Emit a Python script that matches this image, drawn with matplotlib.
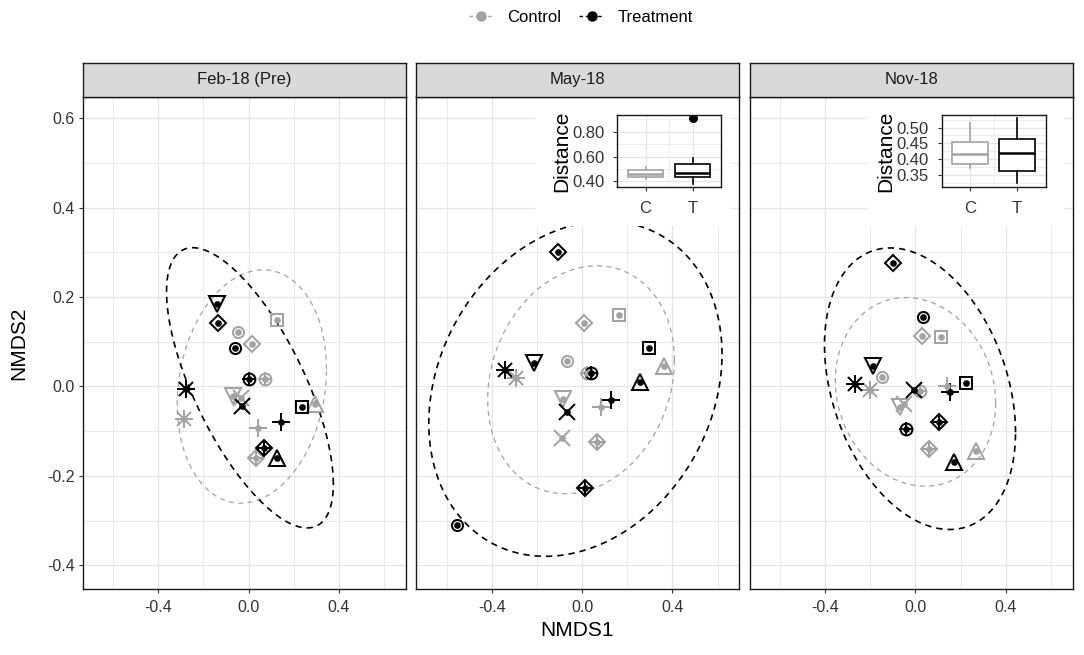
import numpy as np
import matplotlib
matplotlib.use("Agg")
import matplotlib.pyplot as plt
from matplotlib.lines import Line2D
from matplotlib.patches import Rectangle
from matplotlib.ticker import FixedLocator

plt.rcParams['font.family'] = ['Liberation Sans', 'DejaVu Sans']
plt.rcParams['axes.unicode_minus'] = False

# ---------------- data ----------------
panels = ["Feb-18 (Pre)", "May-18", "Nov-18"]
groups = ["Control", "Treatment"]
shapes = ["square", "circle", "tri_up", "plus", "cross", "diamond",
          "tri_down", "asterisk", "diamond_plus", "circle_plus"]

feb_control_x = [0.124, -0.046, 0.296, 0.043, -0.034, 0.013, -0.071, -0.288, 0.033, 0.071]
feb_control_y = [0.149, 0.121, -0.039, -0.092, -0.026, 0.095, -0.021, -0.072, -0.160, 0.017]
feb_treat_x = [0.235, -0.059, 0.124, 0.146, -0.027, -0.134, -0.140, -0.278, 0.067, 0.000]
feb_treat_y = [-0.045, 0.086, -0.159, -0.080, -0.043, 0.142, 0.185, -0.006, -0.138, 0.017]

may_control_x = [0.165, -0.068, 0.361, 0.085, -0.090, 0.009, -0.085, -0.292, 0.066, 0.021]
may_control_y = [0.160, 0.056, 0.045, -0.045, -0.115, 0.142, -0.028, 0.020, -0.125, 0.030]
may_treat_x = [0.296, -0.555, 0.255, 0.128, -0.068, -0.109, -0.212, -0.341, 0.014, 0.039]
may_treat_y = [0.086, -0.309, 0.011, -0.030, -0.058, 0.300, 0.052, 0.037, -0.227, 0.031]

nov_control_x = [0.115, -0.148, 0.269, 0.140, -0.050, 0.030, -0.067, -0.200, 0.059, 0.022]
nov_control_y = [0.110, 0.022, -0.145, 0.002, -0.040, 0.113, -0.045, -0.007, -0.140, -0.011]
nov_treat_x = [0.222, 0.032, 0.170, 0.152, -0.007, -0.099, -0.189, -0.270, 0.106, -0.044]
nov_treat_y = [0.008, 0.156, -0.170, -0.013, -0.007, 0.277, 0.046, 0.005, -0.080, -0.095]

# ellipse parameters per panel (centre, x half-extent, y half-extent, correlation)
ell_control_cx = [0.0145, -0.005, 0.000]
ell_control_cy = [0.000, 0.015, -0.012]
ell_control_rx = [0.331, 0.414, 0.355]
ell_control_ry = [0.261, 0.255, 0.211]
ell_control_rho = [0.15, 0.17, -0.12]
ell_treat_cx = [0.006, -0.030, 0.020]
ell_treat_cy = [-0.003, -0.005, -0.005]
ell_treat_rx = [0.370, 0.650, 0.423]
ell_treat_ry = [0.3135, 0.375, 0.315]
ell_treat_rho = [-0.686, 0.206, -0.31]

# inset boxplots (May-18, Nov-18): distance to centroid
box_labels = ["C", "T"]
box_c_whislo = [0.416, 0.371]
box_c_q1 = [0.435, 0.384]
box_c_med = [0.462, 0.416]
box_c_q3 = [0.495, 0.454]
box_c_whishi = [0.516, 0.516]
box_t_whislo = [0.381, 0.325]
box_t_q1 = [0.435, 0.362]
box_t_med = [0.467, 0.420]
box_t_q3 = [0.543, 0.464]
box_t_whishi = [0.589, 0.530]
box_t_fliers = [[0.908], []]
inset_yticks = [[0.40, 0.60, 0.80], [0.35, 0.40, 0.45, 0.50]]
inset_ylim = [(0.354, 0.935), (0.311, 0.540)]

# ---------------- style ----------------
BLACK = "#000000"
GREY = "#A3A3A3"
colors = {"Control": GREY, "Treatment": BLACK}
TXT = "#333333"
GRID = "#E6E6E6"

W, H = 1084, 655
fig = plt.figure(figsize=(W / 100, H / 100), dpi=100)

panel_lr = [(82.9, 405.7), (416.4, 739.4), (749.5, 1072.9)]
p_top, p_bot = 97.3, 588.5
strip_top = 62.5
XLIM = (-0.735, 0.697)
YLIM = (-0.452, 0.647)


def fx(px):
    return px / W


def fy(py):
    return 1 - py / H


def draw_point(ax, x, y, shape, color):
    kw = dict(color=color, mec=color, mfc="none", mew=1.45, ls="none", zorder=3)
    if shape == "square":
        ax.plot(x, y, marker="s", ms=9, **kw)
    elif shape == "circle":
        ax.plot(x, y, marker="o", ms=8, **kw)
    elif shape == "tri_up":
        ax.plot(x, y, marker="^", ms=12, **kw)
    elif shape == "tri_down":
        ax.plot(x, y, marker="v", ms=12, **kw)
    elif shape == "plus":
        ax.plot(x, y, marker="+", ms=13, **kw)
    elif shape == "cross":
        ax.plot(x, y, marker="x", ms=11, **kw)
    elif shape == "diamond":
        ax.plot(x, y, marker="D", ms=8.5, **kw)
    elif shape == "asterisk":
        ax.plot(x, y, marker="+", ms=13, **kw)
        ax.plot(x, y, marker="x", ms=10.5, **kw)
    elif shape == "diamond_plus":
        ax.plot(x, y, marker="D", ms=8.5, **kw)
        ax.plot(x, y, marker="+", ms=12, **kw)
    elif shape == "circle_plus":
        ax.plot(x, y, marker="o", ms=8.5, **kw)
        ax.plot(x, y, marker="+", ms=10.5, **kw)
    ax.plot(x, y, marker="o", ms=4.8, mfc=color, mec=color, mew=0, ls="none", zorder=4)


def draw_ellipse(ax, cx, cy, rx, ry, rho, color, lw, dash):
    t = np.linspace(0, 2 * np.pi, 361)
    xs = cx + rx * np.cos(t)
    ys = cy + rho * ry * np.cos(t) + ry * np.sqrt(1 - rho ** 2) * np.sin(t)
    ax.plot(xs, ys, color=color, lw=lw, ls=(0, dash), zorder=2.5)


data = [
    (feb_control_x, feb_control_y, feb_treat_x, feb_treat_y),
    (may_control_x, may_control_y, may_treat_x, may_treat_y),
    (nov_control_x, nov_control_y, nov_treat_x, nov_treat_y),
]

# inset geometry (pixels)
inset_bg = [None, (535.0, 731.0), (868.0, 1064.0)]
inset_box = [None, (617.3, 721.0), (941.5, 1045.5)]
ins_top, ins_bot, bg_bot = 115.0, 187.0, 226.0

axes = []
for i, name in enumerate(panels):
    l, r = panel_lr[i]
    ax = fig.add_axes([fx(l), fy(p_bot), (r - l) / W, (p_bot - p_top) / H])
    axes.append(ax)
    ax.set_xlim(*XLIM)
    ax.set_ylim(*YLIM)
    ax.xaxis.set_major_locator(FixedLocator([-0.4, 0.0, 0.4]))
    ax.xaxis.set_minor_locator(FixedLocator([-0.6, -0.2, 0.2, 0.6]))
    ax.yaxis.set_major_locator(FixedLocator([-0.4, -0.2, 0.0, 0.2, 0.4, 0.6]))
    ax.yaxis.set_minor_locator(FixedLocator([-0.3, -0.1, 0.1, 0.3, 0.5]))
    ax.grid(which="major", color=GRID, lw=0.9, zorder=0)
    ax.grid(which="minor", color=GRID, lw=0.6, zorder=0)
    ax.set_axisbelow(True)
    ax.set_xticklabels(["-0.4", "0.0", "0.4"])
    ax.tick_params(which="major", length=3, width=0.8, color=TXT, labelsize=11.5,
                   labelcolor=TXT, pad=3)
    ax.tick_params(axis="x", which="major", pad=5.5)
    ax.tick_params(which="minor", length=0)
    if i == 0:
        ax.set_yticklabels(["-0.4", "-0.2", "0.0", "0.2", "0.4", "0.6"])
    else:
        ax.tick_params(axis="y", which="major", length=0, labelleft=False)
    for s in ax.spines.values():
        s.set_color("#1A1A1A")
        s.set_linewidth(1.0)
        s.set_zorder(6)

    cx_, cy_, tx_, ty_ = data[i]
    for k, shp in enumerate(shapes):
        draw_point(ax, cx_[k], cy_[k], shp, GREY)
    for k, shp in enumerate(shapes):
        draw_point(ax, tx_[k], ty_[k], shp, BLACK)
    draw_ellipse(ax, ell_control_cx[i], ell_control_cy[i], ell_control_rx[i],
                 ell_control_ry[i], ell_control_rho[i], GREY, 0.9, (4, 3.5))
    draw_ellipse(ax, ell_treat_cx[i], ell_treat_cy[i], ell_treat_rx[i],
                 ell_treat_ry[i], ell_treat_rho[i], BLACK, 1.2, (3.8, 3))

    if inset_bg[i] is not None:
        bl, br = inset_bg[i]
        ax.add_patch(Rectangle((fx(bl), fy(bg_bot)), (br - bl) / W, (bg_bot - p_top) / H,
                               transform=fig.transFigure, facecolor="white",
                               edgecolor="none", zorder=5, clip_on=False))

    # strip
    sax = fig.add_axes([fx(l), fy(p_top), (r - l) / W, (p_top - strip_top) / H])
    sax.set_facecolor("#D9D9D9")
    sax.set_xticks([])
    sax.set_yticks([])
    for s in sax.spines.values():
        s.set_color("#1A1A1A")
        s.set_linewidth(1.0)
    sax.text(0.5, 0.5, name, ha="center", va="center", fontsize=12, color="#1A1A1A",
             transform=sax.transAxes)

# inset boxplots
for j, i in enumerate([1, 2]):
    il, ir = inset_box[i]
    iax = fig.add_axes([fx(il), fy(ins_bot), (ir - il) / W, (ins_bot - ins_top) / H])
    iax.set_zorder(10)
    stats = [
        dict(med=box_c_med[j], q1=box_c_q1[j], q3=box_c_q3[j],
             whislo=box_c_whislo[j], whishi=box_c_whishi[j], fliers=[]),
        dict(med=box_t_med[j], q1=box_t_q1[j], q3=box_t_q3[j],
             whislo=box_t_whislo[j], whishi=box_t_whishi[j], fliers=box_t_fliers[j]),
    ]
    for k, (st, col) in enumerate(zip(stats, [GREY, BLACK])):
        iax.bxp([st], positions=[k + 1], widths=0.75, showcaps=False, patch_artist=True,
                boxprops=dict(facecolor="white", edgecolor=col, lw=1.2),
                whiskerprops=dict(color=col, lw=1.2),
                medianprops=dict(color=col, lw=1.8),
                flierprops=dict(marker="o", mfc=col, mec=col, ms=5.5, ls="none"))
    iax.set_xlim(0.4, 2.6)
    iax.set_ylim(*inset_ylim[j])
    iax.set_xticks([1, 2])
    iax.set_xticklabels(box_labels)
    yt = inset_yticks[j]
    iax.yaxis.set_major_locator(FixedLocator(yt))
    step = yt[1] - yt[0]
    minors = [v + step / 2 for v in [yt[0] - step] + yt]
    iax.yaxis.set_minor_locator(FixedLocator(minors))
    iax.set_yticklabels(["%.2f" % v for v in yt])
    iax.xaxis.set_minor_locator(FixedLocator([1.5]))
    iax.grid(which="major", color=GRID, lw=0.9)
    iax.grid(which="minor", color=GRID, lw=0.5)
    iax.set_axisbelow(True)
    iax.tick_params(which="major", length=3, width=0.8, color=TXT, labelsize=12,
                    labelcolor=TXT, pad=6)
    iax.tick_params(which="minor", length=0)
    iax.tick_params(axis="x", pad=7)
    iax.set_ylabel("Distance", fontsize=15, labelpad=1, color=BLACK)
    for s in iax.spines.values():
        s.set_color("#1A1A1A")
        s.set_linewidth(1.0)

# axis titles
fig.text(fx(577), fy(630), "NMDS1", ha="center", va="center", fontsize=15)
fig.text(fx(19), fy(343), "NMDS2", ha="center", va="center", fontsize=15, rotation=90)

# legend
handles = [Line2D([0], [0], color=colors[g], lw=1.0, ls=(0, (2.5, 2)), marker="o",
                  ms=6.5, mfc=colors[g], mec=colors[g]) for g in groups]
fig.legend(handles, groups, loc="center", bbox_to_anchor=(fx(581), fy(17)), ncol=2,
           frameon=False, fontsize=12, handlelength=1.5, handletextpad=0.8,
           columnspacing=1.1)

fig.savefig("out.png", dpi=100)
